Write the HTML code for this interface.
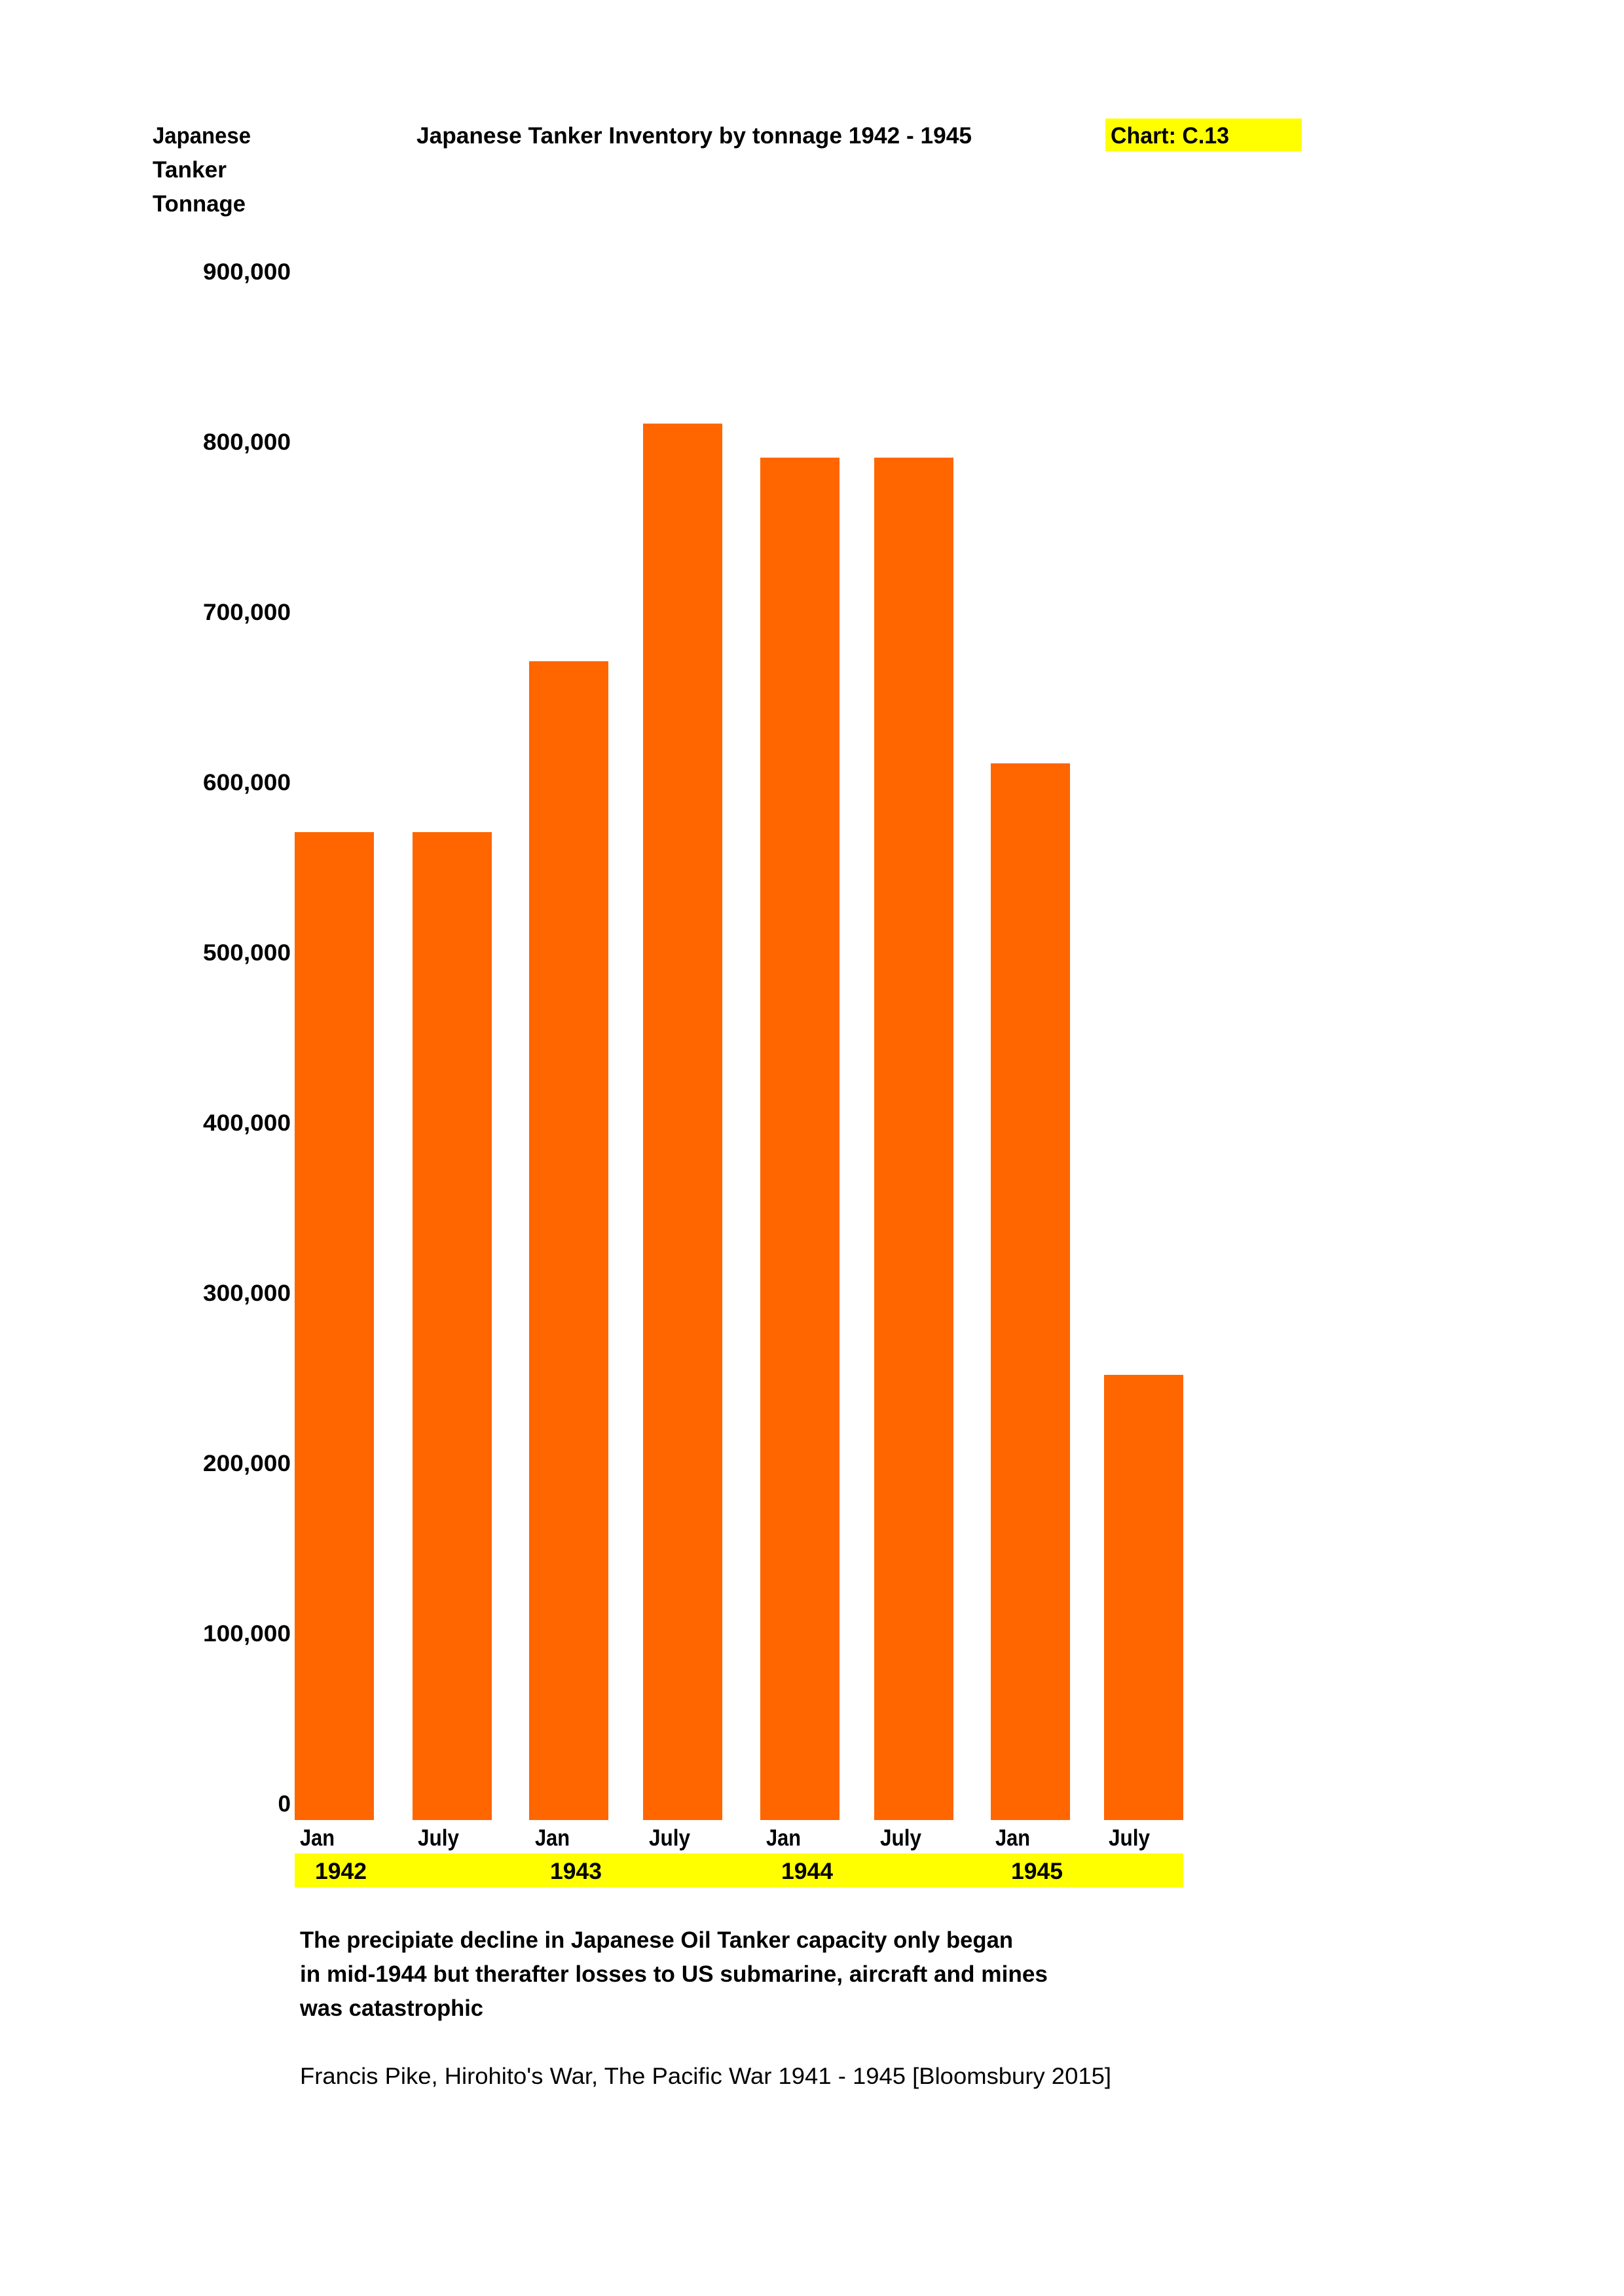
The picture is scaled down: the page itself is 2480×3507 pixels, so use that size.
<!DOCTYPE html>
<html><head><meta charset="utf-8"><style>
html,body{margin:0;padding:0;background:#fff;}
svg{display:block;}
text{font-family:"Liberation Sans",sans-serif;font-weight:bold;font-size:35px;fill:#000;}
</style></head><body>
<svg width="2480" height="3507" xmlns="http://www.w3.org/2000/svg">
<rect width="2480" height="3507" fill="#fff"/>
<rect x="1688" y="181" width="300" height="50" fill="#ffff00"/>
<text x="233" y="219" textLength="150" lengthAdjust="spacingAndGlyphs">Japanese</text>
<text x="233" y="271" textLength="113" lengthAdjust="spacingAndGlyphs">Tanker</text>
<text x="233" y="323" textLength="142" lengthAdjust="spacingAndGlyphs">Tonnage</text>
<text x="636" y="219" textLength="848" lengthAdjust="spacingAndGlyphs">Japanese Tanker Inventory by tonnage 1942 - 1945</text>
<text x="1696" y="219" textLength="181" lengthAdjust="spacingAndGlyphs">Chart: C.13</text>
<g text-anchor="end">
<text x="444" y="427" textLength="134" lengthAdjust="spacingAndGlyphs">900,000</text>
<text x="444" y="687" textLength="134" lengthAdjust="spacingAndGlyphs">800,000</text>
<text x="444" y="947" textLength="134" lengthAdjust="spacingAndGlyphs">700,000</text>
<text x="444" y="1207" textLength="134" lengthAdjust="spacingAndGlyphs">600,000</text>
<text x="444" y="1467" textLength="134" lengthAdjust="spacingAndGlyphs">500,000</text>
<text x="444" y="1727" textLength="134" lengthAdjust="spacingAndGlyphs">400,000</text>
<text x="444" y="1987" textLength="134" lengthAdjust="spacingAndGlyphs">300,000</text>
<text x="444" y="2247" textLength="134" lengthAdjust="spacingAndGlyphs">200,000</text>
<text x="444" y="2507" textLength="134" lengthAdjust="spacingAndGlyphs">100,000</text>
<text x="444" y="2767">0</text>
</g>
<g fill="#ff6600">
<rect x="450" y="1271" width="121" height="1509"/>
<rect x="630" y="1271" width="121" height="1509"/>
<rect x="808" y="1010" width="121" height="1770"/>
<rect x="982" y="647" width="121" height="2133"/>
<rect x="1161" y="699" width="121" height="2081"/>
<rect x="1335" y="699" width="121" height="2081"/>
<rect x="1513" y="1166" width="121" height="1614"/>
<rect x="1686" y="2100" width="121" height="680"/>
</g>
<text x="458" y="2819" textLength="53" lengthAdjust="spacingAndGlyphs">Jan</text>
<text x="638" y="2819" textLength="63" lengthAdjust="spacingAndGlyphs">July</text>
<text x="817" y="2819" textLength="53" lengthAdjust="spacingAndGlyphs">Jan</text>
<text x="991" y="2819" textLength="63" lengthAdjust="spacingAndGlyphs">July</text>
<text x="1170" y="2819" textLength="53" lengthAdjust="spacingAndGlyphs">Jan</text>
<text x="1344" y="2819" textLength="63" lengthAdjust="spacingAndGlyphs">July</text>
<text x="1520" y="2819" textLength="53" lengthAdjust="spacingAndGlyphs">Jan</text>
<text x="1693" y="2819" textLength="63" lengthAdjust="spacingAndGlyphs">July</text>
<rect x="450" y="2831" width="1357" height="52" fill="#ffff00"/>
<text x="481" y="2870" textLength="79" lengthAdjust="spacingAndGlyphs">1942</text>
<text x="840" y="2870" textLength="79" lengthAdjust="spacingAndGlyphs">1943</text>
<text x="1193" y="2870" textLength="79" lengthAdjust="spacingAndGlyphs">1944</text>
<text x="1544" y="2870" textLength="79" lengthAdjust="spacingAndGlyphs">1945</text>
<text x="458" y="2975" textLength="1089" lengthAdjust="spacingAndGlyphs">The precipiate decline in Japanese Oil Tanker capacity only began</text>
<text x="458" y="3027" textLength="1142" lengthAdjust="spacingAndGlyphs">in mid-1944 but therafter losses to US submarine, aircraft and mines</text>
<text x="458" y="3079" textLength="280" lengthAdjust="spacingAndGlyphs">was catastrophic</text>
<text x="458" y="3183" style="font-weight:normal" textLength="1239" lengthAdjust="spacingAndGlyphs">Francis Pike, Hirohito's War, The Pacific War 1941 - 1945 [Bloomsbury 2015]</text>
</svg>
</body></html>
